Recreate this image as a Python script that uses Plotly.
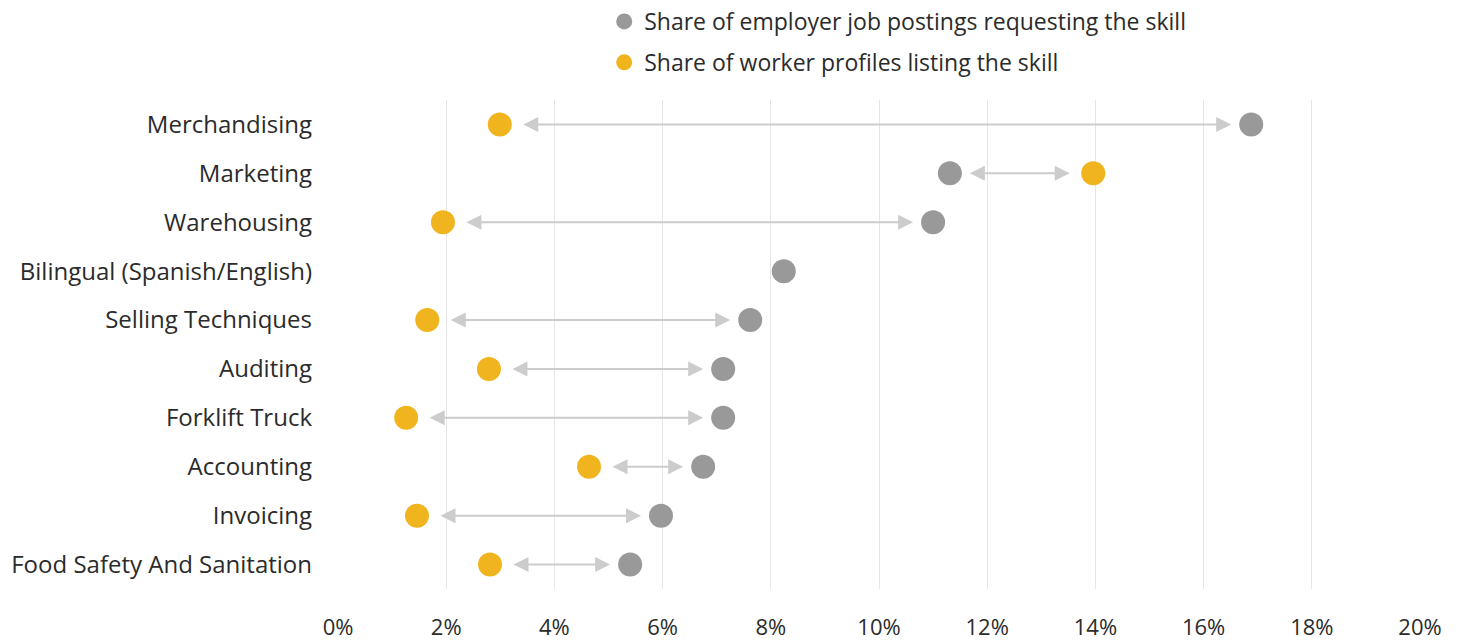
import plotly.graph_objects as go

skills = ["Merchandising", "Marketing", "Warehousing", "Bilingual (Spanish/English)",
          "Selling Techniques", "Auditing", "Forklift Truck", "Accounting",
          "Invoicing", "Food Safety And Sanitation"]
employer_share = [16.88, 11.31, 11.0, 8.24, 7.62, 7.12, 7.12, 6.75, 5.97, 5.40]
worker_share = [2.99, 13.96, 1.94, None, 1.65, 2.79, 1.26, 4.64, 1.46, 2.81]
x_ticks = [0, 2, 4, 6, 8, 10, 12, 14, 16, 18, 20]
x_tick_labels = [f"{v}%" for v in x_ticks]

GRAY = "#999999"
YELLOW = "#F0B41E"
ARROW = "#CCCCCC"
TEXT = "#2b2b2b"
FONT = "Open Sans"

fig = go.Figure()

fig.add_trace(go.Scatter(
    x=employer_share, y=skills, mode="markers",
    marker=dict(size=24, color=GRAY),
    name="Share of employer job postings requesting the skill",
    legendgroup="a", cliponaxis=False,
))
fig.add_trace(go.Scatter(
    x=worker_share, y=skills, mode="markers",
    marker=dict(size=24, color=YELLOW),
    name="Share of worker profiles listing the skill",
    legendgroup="b", cliponaxis=False,
))

for s, e, w in zip(skills, employer_share, worker_share):
    if w is None:
        continue
    fig.add_annotation(
        x=e, y=s, ax=w, ay=s, xref="x", yref="y", axref="x", ayref="y",
        text="", showarrow=True, arrowside="end+start",
        arrowhead=2, arrowsize=1.5, arrowwidth=2, arrowcolor=ARROW,
        standoff=20, startstandoff=22,
    )

fig.update_layout(
    width=1463, height=643,
    margin=dict(l=338, r=43, t=100, b=54, autoexpand=False),
    paper_bgcolor="white", plot_bgcolor="white",
    font=dict(family=FONT, size=23, color=TEXT),
    showlegend=True,
    legend=dict(
        x=0.413, y=1.0, xref="container", yref="container",
        xanchor="left", yanchor="top",
        font=dict(size=23, color=TEXT),
        tracegroupgap=8, traceorder="grouped",
        bgcolor="rgba(0,0,0,0)",
    ),
    xaxis=dict(
        range=[0, 20], tickvals=x_ticks, ticktext=x_tick_labels,
        tickfont=dict(size=22),
        showgrid=True, gridcolor="#E6E6E6", gridwidth=1,
        zeroline=False, showline=False, ticks="",
        ticklabelstandoff=23, fixedrange=True,
    ),
    yaxis=dict(
        categoryorder="array", categoryarray=skills[::-1],
        range=[-0.5, 9.5], tickfont=dict(size=24),
        showgrid=False, zeroline=False, showline=False, ticks="",
        ticklabelstandoff=25, fixedrange=True,
    ),
)

fig.write_html("out.html")
